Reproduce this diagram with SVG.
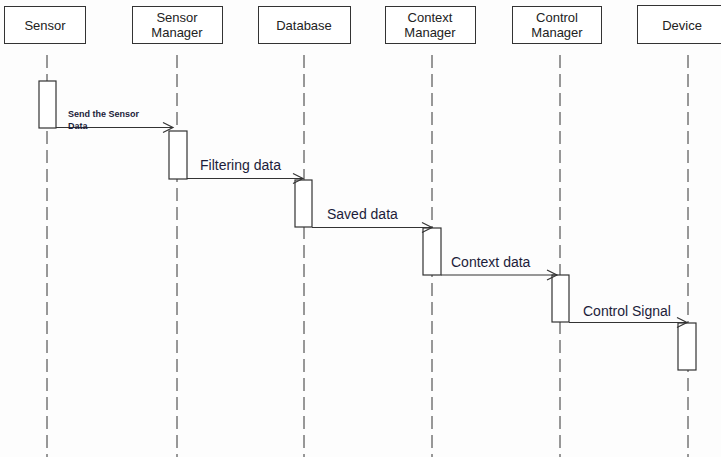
<svg xmlns="http://www.w3.org/2000/svg" width="721" height="457" viewBox="0 0 721 457">
  <defs>
    <style>
      .box { fill: #ffffff; stroke: #333333; stroke-width: 1; }
      .act { fill: #ffffff; stroke: #333333; stroke-width: 1.2; }
      .life { stroke: #333333; stroke-width: 1; stroke-dasharray: 13 6; fill: none; }
      .msg { stroke: #333333; stroke-width: 1.2; fill: none; }
      .head { stroke: #333333; stroke-width: 1.2; fill: none; }
      .name { font-family: "Liberation Sans", Arial, sans-serif; font-size: 13px; fill: #222222; text-anchor: middle; }
      .lbl { font-family: "Liberation Sans", Arial, sans-serif; font-size: 14px; fill: #1c1c3a; }
      .small { font-family: "Liberation Sans", Arial, sans-serif; font-size: 9px; font-weight: bold; fill: #1c1c3a; }
    </style>
  </defs>
  <rect width="721" height="457" fill="#fdfdfd"/>

  <!-- lifelines -->
  <g id="lifelines">
    <line class="life" x1="47" y1="55" x2="47" y2="457"/>
    <line class="life" x1="177" y1="55" x2="177" y2="457"/>
    <line class="life" x1="304" y1="55" x2="304" y2="457"/>
    <line class="life" x1="432" y1="55" x2="432" y2="457"/>
    <line class="life" x1="560" y1="55" x2="560" y2="457"/>
    <line class="life" x1="688" y1="55" x2="688" y2="457"/>
  </g>

  <!-- participants -->
  <g id="sensor">
    <rect class="box" x="4.5" y="6.5" width="81" height="37"/>
    <text class="name" x="45" y="30">Sensor</text>
    <rect class="act" x="39" y="81" width="17" height="47"/>
  </g>
  <g id="sensor-manager">
    <rect class="box" x="132.5" y="6.5" width="90" height="37"/>
    <text class="name" x="177" y="22">Sensor</text>
    <text class="name" x="177" y="37">Manager</text>
    <rect class="act" x="169" y="131" width="18" height="48"/>
  </g>
  <g id="database">
    <rect class="box" x="258.5" y="6.5" width="92" height="37"/>
    <text class="name" x="304" y="30">Database</text>
    <rect class="act" x="295" y="180" width="17" height="47"/>
  </g>
  <g id="context-manager">
    <rect class="box" x="385.5" y="6.5" width="90" height="37"/>
    <text class="name" x="430" y="22">Context</text>
    <text class="name" x="430" y="37">Manager</text>
    <rect class="act" x="423" y="228" width="18" height="47"/>
  </g>
  <g id="control-manager">
    <rect class="box" x="512.5" y="6.5" width="89" height="37"/>
    <text class="name" x="557" y="22">Control</text>
    <text class="name" x="557" y="37">Manager</text>
    <rect class="act" x="552" y="275" width="17" height="47"/>
  </g>
  <g id="device">
    <rect class="box" x="637.5" y="5.5" width="86" height="38"/>
    <text class="name" x="682" y="30">Device</text>
    <rect class="act" x="678" y="323" width="18" height="47"/>
  </g>

  <!-- messages -->
  <g id="connectors">
    <line class="msg" x1="56" y1="127.5" x2="173" y2="127.5"/>
    <polyline class="head" points="163,122.5 173,127.5 163,132.5"/>
    <text class="small" x="68" y="117">Send the Sensor</text>
    <text class="small" x="68" y="129">Data</text>

    <line class="msg" x1="187" y1="178.5" x2="303" y2="178.5"/>
    <polyline class="head" points="293,173.5 303,178.5 293,183.5"/>
    <text class="lbl" x="200" y="170">Filtering data</text>

    <line class="msg" x1="312" y1="227.5" x2="432" y2="227.5"/>
    <polyline class="head" points="422,222.5 432,227.5 422,232.5"/>
    <text class="lbl" x="327" y="219">Saved data</text>

    <line class="msg" x1="441" y1="275" x2="557" y2="275"/>
    <polyline class="head" points="547,270 557,275 547,280"/>
    <text class="lbl" x="451" y="267">Context data</text>

    <line class="msg" x1="569" y1="322.5" x2="687" y2="322.5"/>
    <polyline class="head" points="677,317.5 687,322.5 677,327.5"/>
    <text class="lbl" x="583" y="316">Control Signal</text>
  </g>
</svg>
